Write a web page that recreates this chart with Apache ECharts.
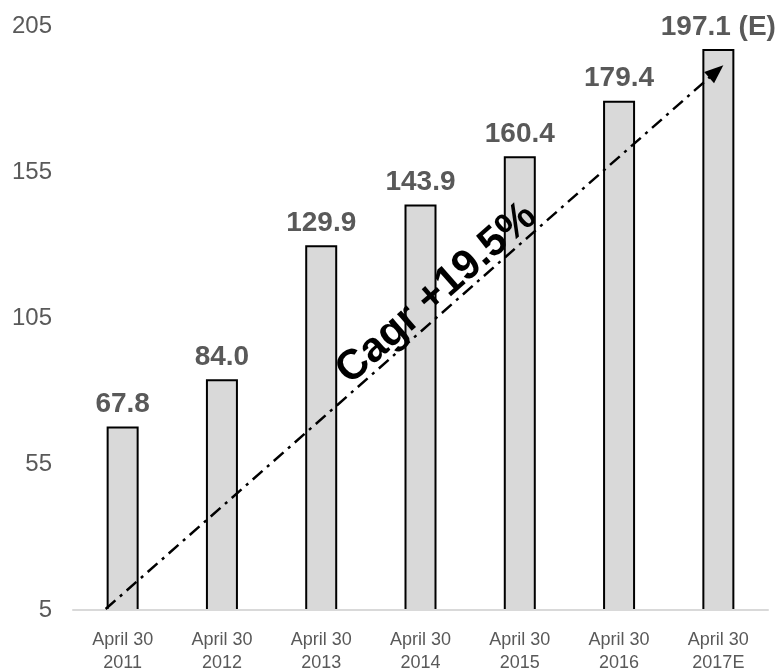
<!DOCTYPE html>
<html>
<head>
<meta charset="utf-8">
<title>Revenue growth</title>
<script src="https://cdn.jsdelivr.net/npm/echarts@6/dist/echarts.min.js"></script>
<style>
  html, body { margin: 0; padding: 0; background: #ffffff; }
  #chart { width: 782px; height: 670px; }
</style>
</head>
<body>
<div id="chart"></div>
<script>
// Fiscal year ends
const categories = [
  'April 30\n2011', 'April 30\n2012', 'April 30\n2013', 'April 30\n2014',
  'April 30\n2015', 'April 30\n2016', 'April 30\n2017E'
];
// Yearly values (last one is an estimate)
const values = [67.8, 84.0, 129.9, 143.9, 160.4, 179.4, 197.1];
const valueLabels = ['67.8', '84.0', '129.9', '143.9', '160.4', '179.4', '197.1 (E)'];

// Value axis range and step
const yMin = 5;
const yMax = 205;
const yStep = 50;

// Growth trend arrow: from [category index, value] to [category index, value]
const trendFrom = [0, 5];
const trendTo = [6, 191.6];
const trendText = 'Cagr +19.5%';

const FONT = '"Liberation Sans", Arial, Helvetica, sans-serif';
const GREY = '#595959';

const chart = echarts.init(document.getElementById('chart'), null, { renderer: 'canvas' });

chart.setOption({
  animation: false,
  backgroundColor: '#ffffff',
  grid: { left: 73, right: 14, top: 26, bottom: 60, containLabel: false, outerBoundsMode: 'none' },
  xAxis: {
    type: 'category',
    data: categories,
    z: 5,
    axisLine: { show: true, lineStyle: { color: '#d9d9d9', width: 2 } },
    axisTick: { show: false },
    axisLabel: {
      color: GREY,
      fontFamily: FONT,
      fontSize: 18,
      lineHeight: 23,
      margin: 19
    }
  },
  yAxis: {
    type: 'value',
    min: yMin,
    max: yMax,
    interval: yStep,
    axisLine: { show: false },
    axisTick: { show: false },
    splitLine: { show: false },
    axisLabel: {
      color: GREY,
      fontFamily: FONT,
      fontSize: 24,
      margin: 21,
      padding: [6, 0, 0, 0]
    }
  },
  series: [{
    type: 'bar',
    data: values,
    barWidth: 32,
    itemStyle: {
      color: '#d9d9d9',
      borderColor: '#000000',
      borderWidth: 2
    },
    label: {
      show: true,
      position: 'top',
      distance: 8,
      color: GREY,
      fontFamily: FONT,
      fontSize: 28,
      fontWeight: 'bold',
      formatter: p => valueLabels[p.dataIndex]
    }
  }]
});

// Trend arrow and its caption, placed through the chart's own coordinate system
const a = chart.convertToPixel({ gridIndex: 0 }, trendFrom);
const b = chart.convertToPixel({ gridIndex: 0 }, trendTo);
const x0 = a[0] - 17, y0 = a[1] - 1;
const x1 = b[0] + 5, y1 = b[1];
const dx = x1 - x0, dy = y1 - y0;
const len = Math.sqrt(dx * dx + dy * dy);
const ux = dx / len, uy = dy / len;
const angle = Math.atan2(-dy, dx);
const headLen = 19, headHalf = 7.5;
const bx = x1 - ux * headLen, by = y1 - uy * headLen;
const px = -uy, py = ux;

const t = 0.555;
const cx = x0 + dx * t, cy = y0 + dy * t;
// perpendicular offset toward the upper left
const off = 18;
const tx = cx + uy * off, ty = cy - ux * off;

chart.setOption({
  graphic: [
    {
      type: 'line',
      z: 10,
      shape: { x1: x0, y1: y0, x2: bx + ux * 2, y2: by + uy * 2 },
      style: { stroke: '#000000', lineWidth: 2.5, lineDash: [13, 6, 3, 6] }
    },
    {
      type: 'polygon',
      z: 10,
      shape: {
        points: [
          [x1, y1],
          [bx + px * headHalf, by + py * headHalf],
          [bx - px * headHalf, by - py * headHalf]
        ]
      },
      style: { fill: '#000000' }
    },
    {
      type: 'text',
      z: 11,
      x: tx,
      y: ty,
      rotation: angle,
      style: {
        text: trendText,
        fill: '#000000',
        font: 'bold 42px ' + FONT,
        align: 'center',
        verticalAlign: 'middle'
      }
    }
  ]
});
</script>
</body>
</html>
